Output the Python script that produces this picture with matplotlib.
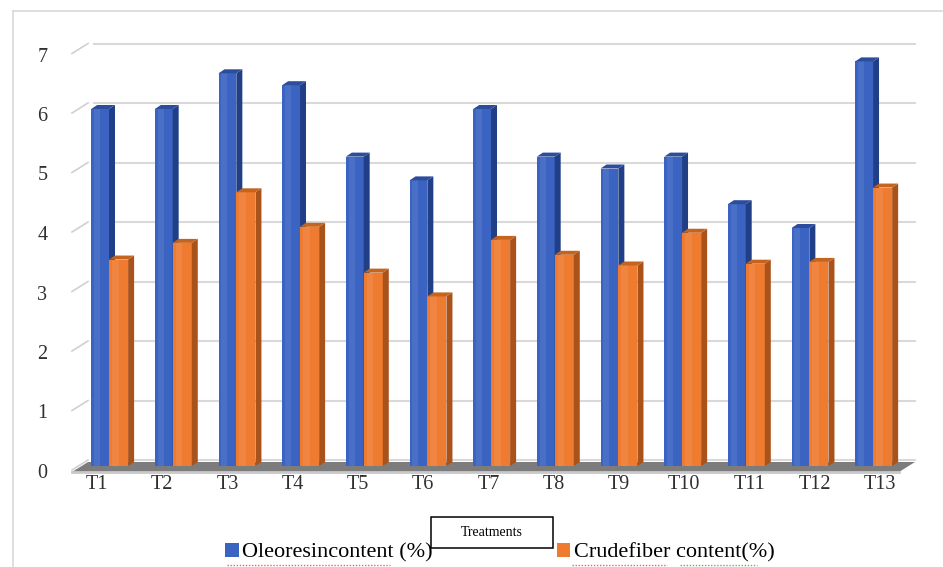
import numpy as np
import matplotlib.pyplot as plt
from matplotlib.patches import Polygon, Rectangle
import matplotlib.transforms as mtransforms

treatments = ['T1', 'T2', 'T3', 'T4', 'T5', 'T6', 'T7', 'T8', 'T9', 'T10', 'T11', 'T12', 'T13']
oleoresin = [6.0, 6.0, 6.6, 6.4, 5.2, 4.8, 6.0, 5.2, 5.0, 5.2, 4.4, 4.0, 6.8]
crude_fiber = [3.47, 3.75, 4.6, 4.02, 3.25, 2.85, 3.8, 3.55, 3.37, 3.92, 3.4, 3.43, 4.68]
y_ticks = [0, 1, 2, 3, 4, 5, 6, 7]
legend_labels = ['Oleoresincontent (%)', 'Crudefiber content(%)']

SERIF = ['Liberation Serif', 'DejaVu Serif']

W, H = 943, 567
fig = plt.figure(figsize=(W / 100, H / 100), dpi=100)
fig.patch.set_facecolor('white')

# pixel box of the plot area (top-left origin)
ax_l, ax_r, ax_t, ax_b = 60, 930, 30, 474
x0_px, y0_px = 109, 466      # first group centre / zero level on the bar plane
sx, sy = 63.67, 59.5         # pixels per category / per unit

# background layer in pixel coords: frame, title box, squiggles
bg = fig.add_axes([0, 0, 1, 1], zorder=0)
bg.set_xlim(0, W)
bg.set_ylim(H, 0)
bg.axis('off')
bg.plot([13, 13], [11, H], color='#d9d9d9', lw=1.2)
bg.plot([13, W], [11, 11], color='#d9d9d9', lw=1.2)
bg.add_patch(Rectangle((431, 517), 122, 31, fc='white', ec='black', lw=1.1))
bg.text(492, 532, 'Treatments', ha='center', va='center', fontsize=10, family=SERIF)
for x1, x2, c in [(227, 390, '#e04040'), (572, 667, '#e04040'), (680, 757, '#40a040')]:
    bg.plot([x1, x2], [565, 565], color=c, lw=1.0, ls=(0, (1, 1.2)), alpha=0.8)

ax = fig.add_axes([ax_l / W, 1 - ax_b / H, (ax_r - ax_l) / W, (ax_b - ax_t) / H], zorder=1)
ax.patch.set_alpha(0)
ax.set_xlim((ax_l - x0_px) / sx, (ax_r - x0_px) / sx)
ax.set_ylim((y0_px - ax_b) / sy, (y0_px - ax_t) / sy)
for s in ax.spines.values():
    s.set_visible(False)

def px(dx, dy):
    # pixel offset (right, up) -> data offset
    return dx / sx, dy / sy

# back wall gridlines + left wall edges
wall_x, wall_y = px(6.4, 6)
front_x, front_y = px(-9.6, -4)
right_x = (915 - x0_px) / sx
for v in y_ticks:
    ax.plot([wall_x - 21 / sx + 0.0, right_x], [v + wall_y] * 2, color='#d9d9d9', lw=1.5, zorder=1)
    ax.plot([(72 - x0_px) / sx, (88 - x0_px) / sx], [v + front_y, v + wall_y],
            color='#d0d0d0', lw=1.2, zorder=1)

# floor
floor = Polygon([((72 - x0_px) / sx, -6 / sy), ((899 - x0_px) / sx, -6 / sy),
                 ((915 - x0_px) / sx, 4 / sy), ((88 - x0_px) / sx, 4 / sy)],
                closed=True, fc='#7c7c7c', ec='none', zorder=2)
ax.add_patch(floor)
ax.plot([(72 - x0_px) / sx, (899 - x0_px) / sx], [-6 / sy] * 2, color='#c9c9c9', lw=2, zorder=2)

ddx, ddy = px(6, 4)

def bar3d(x, w, h, front, side, top, z):
    ax.add_patch(Rectangle((x, 0), w, h, fc=front, ec='none', zorder=z))
    # lighter stripe on the front face
    ax.add_patch(Rectangle((x + w * 0.15, 0), w * 0.35, h, fc='white', alpha=0.08, ec='none', zorder=z))
    ax.add_patch(Polygon([(x + w, 0), (x + w, h), (x + w + ddx, h + ddy), (x + w + ddx, ddy)],
                         closed=True, fc=side, ec='none', zorder=z))
    ax.add_patch(Polygon([(x, h), (x + w, h), (x + w + ddx, h + ddy), (x + ddx, h + ddy)],
                         closed=True, fc=top, ec='none', zorder=z))

xs = np.arange(len(treatments))
for i in xs:
    bar3d(i - 0.28, 0.28, oleoresin[i], '#3a63c2', '#213f86', '#2c4d9c', 3)
    bar3d(i, 0.30, crude_fiber[i], '#ee7b30', '#a9521a', '#c4641f', 4)

# axis labels
ax.set_yticks(y_ticks)
ax.set_yticklabels([str(v) for v in y_ticks], family=SERIF, fontsize=14.5, color='#303030')
ax.tick_params(axis='y', length=0, pad=9)
shift = mtransforms.ScaledTranslation(0, -5 / 100, fig.dpi_scale_trans)
for lab in ax.get_yticklabels():
    lab.set_transform(lab.get_transform() + shift)

ax.set_xticks(xs * 1.025 - 0.19)
ax.set_xticklabels(treatments, family=SERIF, fontsize=14.5, color='#303030')
ax.tick_params(axis='x', length=0, pad=1)

handles = [Rectangle((0, 0), 1, 1, fc='#3a63c2', ec='none'),
           Rectangle((0, 0), 1, 1, fc='#ee7b30', ec='none')]
fig.legend(handles, legend_labels, loc='center', bbox_to_anchor=(500 / W, 1 - 553 / H),
           ncol=2, frameon=False, prop={'family': SERIF, 'size': 16},
           handlelength=0.6, handleheight=0.6, handletextpad=0.15, columnspacing=5.6)

fig.savefig('out.png', dpi=100)
